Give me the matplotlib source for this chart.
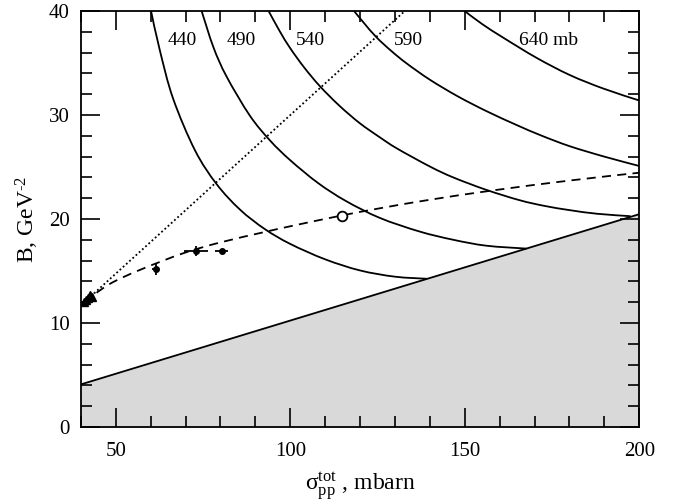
import matplotlib
matplotlib.use("Agg")
import matplotlib.pyplot as plt
import numpy as np
from matplotlib.ticker import MultipleLocator
from matplotlib.path import Path
from matplotlib.patches import PathPatch

plt.rcParams['font.family'] = ['Liberation Serif', 'DejaVu Serif']
plt.rcParams['mathtext.fontset'] = 'custom'
plt.rcParams['mathtext.rm'] = 'Liberation Serif'
plt.rcParams['mathtext.it'] = 'Liberation Serif'

# Curves of constant value (mb)
c440_x = [60.1, 62.6, 66.4, 72.7, 78.9, 85.6, 92.7, 100.0, 110.0, 120.0, 130.0, 139.1]
c440_y = [40.0, 36.25, 31.6, 26.6, 23.35, 20.9, 19.03, 17.6, 16.12, 15.05, 14.45, 14.25]
c490_x = [74.6, 78.0, 81.75, 88.4, 94.2, 100.0, 108.0, 116.0, 125.7, 137.0, 146.7, 156.2, 167.7]
c490_y = [40.0, 36.5, 33.7, 29.95, 27.55, 25.65, 23.45, 21.72, 20.1, 18.8, 18.0, 17.43, 17.15]
c540_x = [93.8, 97.0, 100.0, 104.0, 108.5, 114.0, 119.9, 125.7, 130.5, 140.0, 146.7,
          156.2, 165.8, 173.0, 180.1, 188.0, 197.5]
c540_y = [40.0, 38.05, 36.42, 34.57, 32.77, 30.92, 29.22, 27.85, 26.8, 25.05, 24.0,
          22.8, 21.8, 21.25, 20.85, 20.5, 20.27]
c590_x = [118.3, 121.0, 124.7, 129.0, 133.3, 140.0, 148.0, 156.2, 164.8, 172.0, 180.1, 190.0, 200.0]
c590_y = [40.0, 38.9, 37.48, 36.15, 34.98, 33.4, 31.8, 30.38, 29.05, 28.02, 27.0, 26.0, 25.1]
c640_x = [150.0, 155.0, 161.0, 170.6, 180.1, 189.7, 200.0]
c640_y = [40.0, 38.75, 37.45, 35.5, 33.85, 32.55, 31.4]
curve_labels = ['440', '490', '540', '590', '640 mb']
label_x = [69.1, 86.0, 105.8, 133.8, 173.9]
label_y = [37.2, 37.2, 37.2, 37.2, 37.2]

# Dashed model curve
dash_x = [41.0, 48.0, 56.9, 69.3, 80.0, 92.7, 100.0, 114.2, 126.0, 140.0, 158.1, 180.1, 200.0]
dash_y = [12.0, 13.7, 15.1, 16.7, 17.75, 18.75, 19.3, 20.3, 21.05, 21.85, 22.75, 23.7, 24.45]

# Dotted straight line
dot_x = [41.0, 132.8]
dot_y = [12.0, 40.0]

# Boundary of shaded region
bound_x = [40.0, 200.0]
bound_y = [4.09, 20.46]

# Data points
tri_x = [41.0, 41.5, 42.0, 42.6, 43.3]
tri_y = [12.0, 12.2, 12.4, 12.7, 12.5]
pt_x = [61.5, 73.0, 80.3]
pt_y = [15.2, 16.9, 16.9]
pt_xerr = [1.0, 3.5, 1.9]
pt_yerr = [0.55, 0.5, 0.15]
circ_x = [114.7]
circ_y = [20.3]


def smooth_path(xs, ys):
    """Catmull-Rom through the read points, drawn as cubic Bezier segments."""
    p = np.column_stack([xs, ys]).astype(float)
    n = len(p)
    verts = [p[0]]
    codes = [Path.MOVETO]
    for i in range(n - 1):
        p0 = p[i - 1] if i > 0 else p[i]
        p1 = p[i]
        p2 = p[i + 1]
        p3 = p[i + 2] if i + 2 < n else p[i + 1]
        c1 = p1 + (p2 - p0) / 6.0
        c2 = p2 - (p3 - p1) / 6.0
        verts += [c1, c2, p2]
        codes += [Path.CURVE4] * 3
    return Path(verts, codes)


fig = plt.figure(figsize=(6.8, 5.04), dpi=100)
ax = fig.add_axes([0.119, 0.153, 0.821, 0.825])

ax.fill_between(bound_x, 0, bound_y, color='#d9d9d9', zorder=1)
ax.plot(bound_x, bound_y, color='black', lw=1.3, zorder=3)

for xs, ys in [(c440_x, c440_y), (c490_x, c490_y), (c540_x, c540_y),
               (c590_x, c590_y), (c640_x, c640_y)]:
    ax.add_patch(PathPatch(smooth_path(xs, ys), fill=False, ec='black',
                           lw=1.3, zorder=3, clip_on=True))

for t, x, y in zip(curve_labels, label_x, label_y):
    ax.text(x, y, t, ha='center', va='center', fontsize=14)

ax.add_patch(PathPatch(smooth_path(dash_x, dash_y), fill=False, ec='black',
                       lw=1.3, ls=(0, (5, 3.5)), zorder=3))
ax.plot(dot_x, dot_y, color='black', lw=1.3, ls=(0, (1, 1.4)), zorder=3)

ax.plot(tri_x, tri_y, ls='none', marker='^', color='black', ms=6, zorder=4)
ax.errorbar(pt_x, pt_y, xerr=pt_xerr, yerr=pt_yerr, fmt='o', color='black',
            ms=4, elinewidth=1.3, capsize=0, zorder=4)
ax.errorbar(circ_x, circ_y, xerr=[0.9], fmt='o', mfc='white', mec='black',
            color='black', ms=7, mew=1.3, elinewidth=1.0, capsize=0, zorder=5)

ax.set_xlim(40, 200)
ax.set_ylim(0, 40)
ax.xaxis.set_major_locator(MultipleLocator(50))
ax.xaxis.set_minor_locator(MultipleLocator(10))
ax.yaxis.set_major_locator(MultipleLocator(10))
ax.yaxis.set_minor_locator(MultipleLocator(2))
ax.tick_params(which='both', direction='in', top=True, right=True, width=1.2,
               labelsize=15)
ax.tick_params(which='major', length=14)
ax.tick_params(axis='x', which='major', pad=11)
ax.tick_params(axis='y', which='major', pad=8)
ax.tick_params(which='minor', length=8)
for s in ax.spines.values():
    s.set_linewidth(1.3)

ax.set_xlabel('$\\mathrm{σ}^{\\rm tot}_{\\rm pp}$ , mbarn', fontsize=17, labelpad=7)
ax.set_ylabel('B, GeV$^{\\rm \u20102}$', fontsize=17, labelpad=6)

fig.savefig('out.png', dpi=100)
